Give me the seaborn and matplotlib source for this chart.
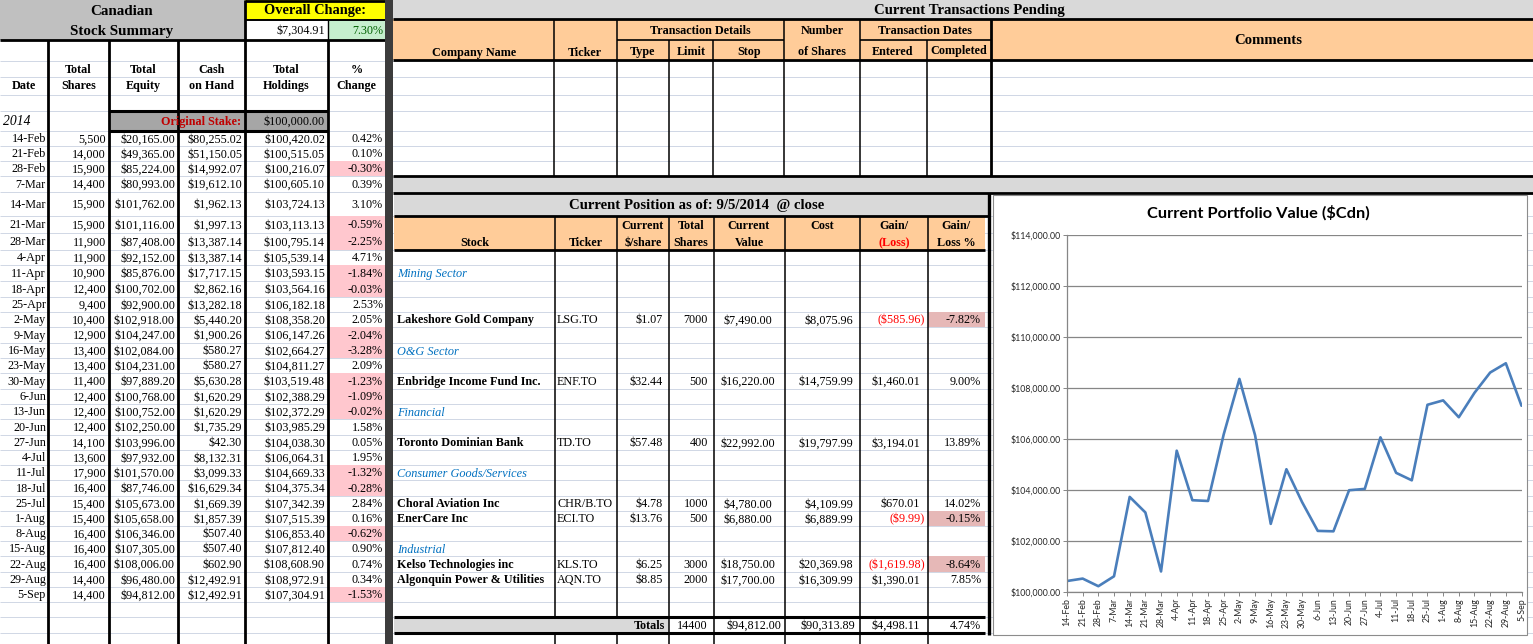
import matplotlib
matplotlib.use("Agg")
import matplotlib.pyplot as plt
from matplotlib.patches import Rectangle
import numpy as np
import pandas as pd
import seaborn as sns

# ---- weekly summary (left sheet) ----
dates = ["14-Feb", "21-Feb", "28-Feb", "7-Mar", "14-Mar", "21-Mar", "28-Mar", "4-Apr",
         "11-Apr", "18-Apr", "25-Apr", "2-May", "9-May", "16-May", "23-May", "30-May",
         "6-Jun", "13-Jun", "20-Jun", "27-Jun", "4-Jul", "11-Jul", "18-Jul", "25-Jul",
         "1-Aug", "8-Aug", "15-Aug", "22-Aug", "29-Aug", "5-Sep"]
total_shares = [5500, 14000, 15900, 14400, 15900, 15900, 11900, 11900, 10900, 12400,
                9400, 10400, 12900, 13400, 13400, 11400, 12400, 12400, 12400, 14100,
                13600, 17900, 16400, 15400, 15400, 16400, 16400, 16400, 14400, 14400]
total_equity = [20165.00, 49365.00, 85224.00, 80993.00, 101762.00, 101116.00, 87408.00,
                92152.00, 85876.00, 100702.00, 92900.00, 102918.00, 104247.00, 102084.00,
                104231.00, 97889.20, 100768.00, 100752.00, 102250.00, 103996.00, 97932.00,
                101570.00, 87746.00, 105673.00, 105658.00, 106346.00, 107305.00,
                108006.00, 96480.00, 94812.00]
cash_on_hand = [80255.02, 51150.05, 14992.07, 19612.10, 1962.13, 1997.13, 13387.14,
                13387.14, 17717.15, 2862.16, 13282.18, 5440.20, 1900.26, 580.27, 580.27,
                5630.28, 1620.29, 1620.29, 1735.29, 42.30, 8132.31, 3099.33, 16629.34,
                1669.39, 1857.39, 507.40, 507.40, 602.90, 12492.91, 12492.91]
total_holdings = [100420.02, 100515.05, 100216.07, 100605.10, 103724.13, 103113.13,
                  100795.14, 105539.14, 103593.15, 103564.16, 106182.18, 108358.20,
                  106147.26, 102664.27, 104811.27, 103519.48, 102388.29, 102372.29,
                  103985.29, 104038.30, 106064.31, 104669.33, 104375.34, 107342.39,
                  107515.39, 106853.40, 107812.40, 108608.90, 108972.91, 107304.91]
pct_change = [0.42, 0.10, -0.30, 0.39, 3.10, -0.59, -2.25, 4.71, -1.84, -0.03, 2.53,
              2.05, -2.04, -3.28, 2.09, -1.23, -1.09, -0.02, 1.58, 0.05, 1.95, -1.32,
              -0.28, 2.84, 0.16, -0.62, 0.90, 0.74, 0.34, -1.53]
original_stake = 100000.00
overall_change = 7304.91
overall_pct = 7.30

# ---- current position (middle sheet) ----
sectors = ["Mining Sector", "O&G Sector", "Financial", "Consumer Goods/Services", "Industrial"]
stock_names = ["Lakeshore Gold Company", "Enbridge Income Fund Inc.", "Toronto Dominian Bank",
               "Choral Aviation Inc", "EnerCare Inc", "Kelso Technologies inc",
               "Algonquin Power & Utilities"]
tickers = ["LSG.TO", "ENF.TO", "TD.TO", "CHR/B.TO", "ECI.TO", "KLS.TO", "AQN.TO"]
price = [1.07, 32.44, 57.48, 4.78, 13.76, 6.25, 8.85]
shares = [7000, 500, 400, 1000, 500, 3000, 2000]
cur_value = [7490.00, 16220.00, 22992.00, 4780.00, 6880.00, 18750.00, 17700.00]
cost = [8075.96, 14759.99, 19797.99, 4109.99, 6889.99, 20369.98, 16309.99]
gain = [-585.96, 1460.01, 3194.01, 670.01, -9.99, -1619.98, 1390.01]
gain_pct = [-7.82, 9.00, 13.89, 14.02, -0.15, -8.64, 7.85]
totals = [14400, 94812.00, 90313.89, 4498.11, 4.74]

# ---- layout (sheet rows in pixels) ----
EDGES = [0, 20, 40, 61, 77, 95, 111, 131, 146, 161, 176, 192, 216, 233, 250, 265, 281,
         297, 312, 327, 343, 358, 373, 389, 404, 419, 435, 450, 465, 480, 496, 511, 526,
         541, 556, 572, 587, 602, 617, 633, 648]
sector_rows = [15, 20, 24, 28, 33]
stock_rows = [18, 22, 26, 30, 31, 34, 35]

SERIF = "Liberation Serif"
SANS = "Lato"
GRID = "#d0d7e5"

sns.set_style("white")
plt.rcParams["font.family"] = [SERIF, "DejaVu Sans"]

fig = plt.figure(figsize=(15.33, 6.44), dpi=100)
ax = fig.add_axes([0, 0, 1, 1])
ax.set_xlim(0, 1533)
ax.set_ylim(644, 0)
ax.axis("off")


def mid(r):
    return (EDGES[r] + EDGES[r + 1]) / 2


def box(x0, y0, x1, y1, fc, ec="none", lw=0, z=2):
    ax.add_patch(Rectangle((x0, y0), x1 - x0, y1 - y0, facecolor=fc, edgecolor=ec,
                           linewidth=lw, zorder=z))


def hl(y, x0, x1, lw=1.4, c="black", z=3):
    ax.plot([x0, x1], [y, y], color=c, lw=lw, zorder=z, solid_capstyle="butt")


def vl(x, y0, y1, lw=1.4, c="black", z=3):
    ax.plot([x, x], [y0, y1], color=c, lw=lw, zorder=z, solid_capstyle="butt")


def txt(x, yc, s, ha="right", size=8.7, weight="normal", style="normal", color="black",
        family=SERIF, z=5):
    ax.text(x, yc + size * 100 / 72 * 0.33, s, ha=ha, va="baseline", fontsize=size,
            fontweight=weight, fontstyle=style, color=color, family=family, zorder=z)


def money(v):
    return f"${v:,.2f}"


# excel gridlines
for e in EDGES:
    hl(e, 0, 1533, lw=0.7, c=GRID, z=1)

# ---------------- left: stock summary ----------------
box(0, 0, 245, 40, "#c0c0c0")
box(245, 0, 385, 20, "#ffff00")
box(245, 20, 328, 40, "white")
box(328, 20, 385, 40, "#c6efce")
box(109, 111, 328, 131, "#a6a6a6")
for i, p in enumerate(pct_change):
    if p < 0:
        r = 7 + i
        box(328, EDGES[r], 385, EDGES[r + 1], "#ffc7ce")

hl(40, 0, 385, lw=2)
hl(20, 245, 385, lw=1.4)
hl(1, 245, 385, lw=2)
for x in [48, 109, 178]:
    vl(x, 40, 644, lw=2)
vl(245, 0, 644, lw=2)
vl(328, 20, 40, lw=1)
vl(328, 40, 644, lw=2)
hl(111, 109, 328, lw=2.2)
hl(131, 109, 328, lw=2.2)

txt(122, 10, "Canadian", ha="center", size=10.8, weight="bold")
txt(122, 30, "Stock Summary", ha="center", size=10.8, weight="bold")
txt(315, 9.5, "Overall Change:", ha="center", size=10.4, weight="bold")
txt(325, 30, money(overall_change))
txt(383, 30, f"{overall_pct:.2f}%", color="#006100")

txt(24, 85, "Date", ha="center", weight="bold")
heads = [("Total", "Shares"), ("Total", "Equity"), ("Cash", "on Hand"),
         ("Total", "Holdings"), ("%", "Change")]
left_cols = [48, 109, 178, 245, 328, 385]
for k, (a, b) in enumerate(heads):
    cx = (left_cols[k] + left_cols[k + 1]) / 2
    txt(cx, 69, a, ha="center", weight="bold")
    txt(cx, 85, b, ha="center", weight="bold")

txt(3, 121, "2014", ha="left", size=9.8, style="italic")
txt(241, 121, "Original Stake:", weight="bold", color="#c00000")
txt(325, 121, money(original_stake))

for i in range(len(dates)):
    y = mid(7 + i)
    txt(46, y, dates[i])
    txt(106, y, f"{total_shares[i]:,}")
    txt(175, y, money(total_equity[i]))
    txt(242, y, money(cash_on_hand[i]))
    txt(325, y, money(total_holdings[i]))
    txt(383, y, f"{pct_change[i]:.2f}%")

box(385, 0, 393, 644, "#3c3c3c", z=6)

# ---------------- middle top: pending transactions ----------------
box(393, 0, 1533, 19, "#d9d9d9")
txt(969, 9, "Current Transactions Pending", ha="center", size=10.6, weight="bold")
box(393, 19, 1533, 60, "#ffcc99")
box(393, 60, 1533, 176, "white", z=0.5)
for e in EDGES[3:10]:
    hl(e, 393, 1533, lw=0.7, c=GRID, z=1)
hl(19, 393, 1533, lw=2)
hl(60, 393, 1533, lw=2)
hl(176, 393, 1533, lw=2)
hl(40, 617, 784, lw=1.2)
hl(40, 860, 991, lw=1.2)
for x in [554, 617, 784, 860]:
    vl(x, 19, 176, lw=1.1)
vl(991, 19, 176, lw=2)
for x in [669, 713, 927]:
    vl(x, 40, 176, lw=1.1)

txt(474, 52, "Company Name", ha="center", weight="bold")
txt(585, 52, "Ticker", ha="center", weight="bold")
txt(700, 30, "Transaction Details", ha="center", weight="bold")
txt(643, 51, "Type", ha="center", weight="bold")
txt(691, 51, "Limit", ha="center", weight="bold")
txt(749, 51, "Stop", ha="center", weight="bold")
txt(822, 30, "Number", ha="center", weight="bold")
txt(822, 51, "of Shares", ha="center", weight="bold")
txt(925, 30, "Transaction Dates", ha="center", weight="bold")
txt(893, 51, "Entered", ha="center", weight="bold")
txt(959, 50, "Completed", ha="center", weight="bold")
txt(1268, 39, "Comments", ha="center", size=10.6, weight="bold")

box(393, 176, 1533, 193, "#d9d9d9")
hl(193, 393, 1533, lw=2)

# ---------------- middle bottom: current position ----------------
box(394, 193, 988, 216, "#d9d9d9")
txt(697, 204, "Current Position as of: 9/5/2014  @ close", ha="center", size=10.6,
    weight="bold")
hl(216, 394, 988, lw=2)
box(394, 216, 985, 250, "#ffcc99")
hl(250, 394, 985, lw=2)
for i, p in enumerate(gain_pct):
    if p < 0:
        r = stock_rows[i]
        box(928, EDGES[r], 985, EDGES[r + 1], "#e6b8b7")

box(394, 617, 669, 633, "#d9d9d9", z=2.5)
for x in [555, 617]:
    vl(x, 216, 617, lw=1.1)
    vl(x, 633, 644, lw=1.1)
for x in [669, 714, 785, 860, 928]:
    vl(x, 216, 644, lw=1.1)
hl(617, 394, 985, lw=2.2)
hl(633, 394, 985, lw=2.2)
vl(989, 193, 635, lw=2.4)

txt(475, 242, "Stock", ha="center", weight="bold")
txt(586, 242, "Ticker", ha="center", weight="bold")
pos_heads = [(643, "Current", "$/share"), (691, "Total", "Shares"),
             (749, "Current", "Value"), (822, "Cost", None)]
for cx, a, b in pos_heads:
    txt(cx, 225, a, ha="center", weight="bold")
    if b:
        txt(cx, 242, b, ha="center", weight="bold")
txt(894, 225, "Gain/", ha="center", weight="bold")
txt(894, 242, "(Loss)", ha="center", weight="bold", color="#ff0000")
txt(956, 225, "Gain/", ha="center", weight="bold")
txt(956, 242, "Loss %", ha="center", weight="bold")

for s, r in zip(sectors, sector_rows):
    txt(397, mid(r), s, ha="left", size=8.8, style="italic", color="#0070c0")

for i in range(len(stock_names)):
    y = mid(stock_rows[i])
    txt(397, y, stock_names[i], ha="left", weight="bold")
    txt(557, y, tickers[i], ha="left")
    txt(663, y, money(price[i]))
    txt(708, y, f"{shares[i]}")
    txt(748, y, money(cur_value[i]), ha="center")
    txt(853, y, money(cost[i]))
    if gain[i] < 0:
        txt(925, y, f"({money(-gain[i])})", color="#ff0000")
    else:
        txt(920, y, money(gain[i]))
    txt(981, y, f"{gain_pct[i]:.2f}%")

yt = mid(38)
txt(665, yt, "Totals", weight="bold")
txt(708, yt, f"{totals[0]}")
txt(754, yt, money(totals[1]), ha="center")
txt(855, yt, money(totals[2]))
txt(920, yt, money(totals[3]))
txt(981, yt, f"{totals[4]:.2f}%")

# ---------------- chart ----------------
box(993, 195, 1527, 635, "white", ec="#8c8c8c", lw=0.8, z=6)
txt(1258, 212, "Current Portfolio Value ($Cdn)", ha="center", size=11.8, weight="bold",
    family=SANS, z=7)

L, R, T, B = 1067, 1521.5, 235.3, 591.7
cax = fig.add_axes([L / 1533, 1 - B / 644, (R - L) / 1533, (B - T) / 644])
cax.patch.set_alpha(0)
df = pd.DataFrame({"week": np.arange(len(dates)), "holdings": total_holdings})
sns.lineplot(data=df, x="week", y="holdings", ax=cax, color="#4a7ebb", linewidth=1.9)
cax.set_xlim(0, len(dates) - 1)
cax.set_ylim(100000, 114000)
yt_vals = np.arange(100000, 114001, 2000)
cax.set_yticks(yt_vals)
cax.set_yticklabels([money(v) for v in yt_vals], fontsize=6.3, family=SANS)
cax.set_xticks(np.arange(len(dates)))
cax.set_xticklabels(dates, rotation=90, fontsize=6.3, family=SANS)
cax.set_xlabel("")
cax.set_ylabel("")
cax.yaxis.grid(True, color="#868686", linewidth=0.9)
cax.xaxis.grid(False)
for side in ["top", "right"]:
    cax.spines[side].set_visible(False)
for side in ["left", "bottom"]:
    cax.spines[side].set_color("#868686")
    cax.spines[side].set_linewidth(0.9)
cax.tick_params(axis="x", length=3, width=0.7, color="#868686", pad=1.5, direction="out",
                bottom=True)
cax.tick_params(axis="y", length=3, width=0.7, color="#868686", pad=1.5, direction="out",
                left=True)

fig.savefig("out.png", dpi=100)
